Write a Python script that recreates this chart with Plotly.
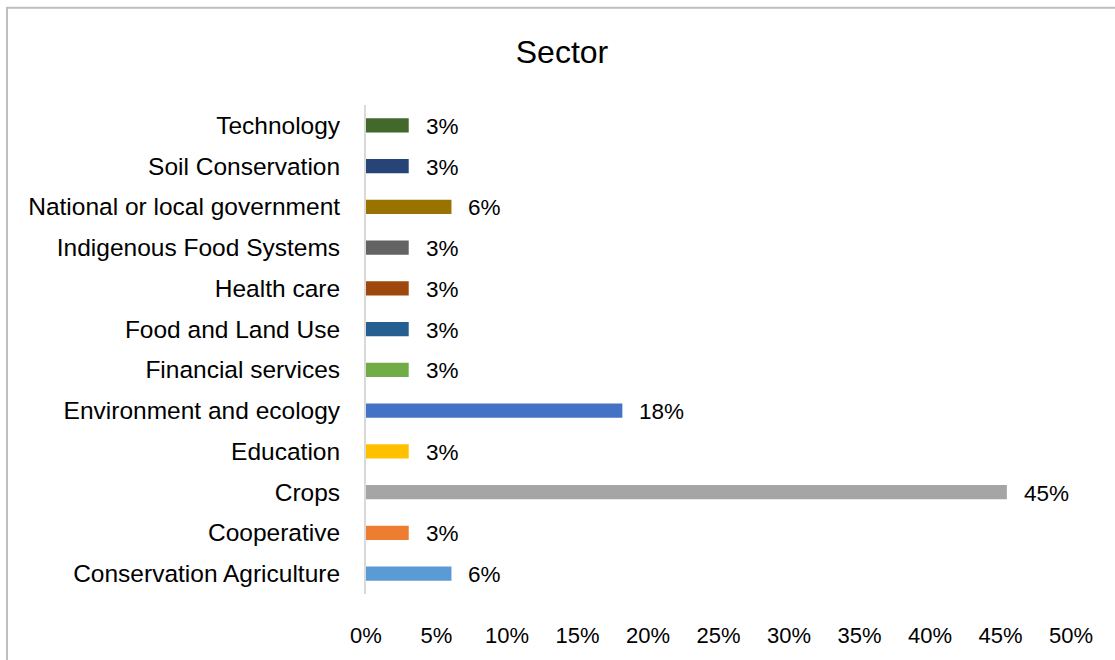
import plotly.graph_objects as go

# Data (bottom -> top, as drawn)
categories = [
    "Conservation Agriculture", "Cooperative", "Crops", "Education",
    "Environment and ecology", "Financial services", "Food and Land Use",
    "Health care", "Indigenous Food Systems", "National or local government",
    "Soil Conservation", "Technology",
]
shares = [0.0606, 0.0303, 0.4545, 0.0303, 0.1818, 0.0303, 0.0303,
          0.0303, 0.0303, 0.0606, 0.0303, 0.0303]
bar_colors = ["#5B9BD5", "#ED7D31", "#A5A5A5", "#FFC000", "#4472C4", "#70AD47",
              "#255E91", "#9E480E", "#636363", "#997300", "#264478", "#43682B"]
x_ticks = [0, 0.05, 0.10, 0.15, 0.20, 0.25, 0.30, 0.35, 0.40, 0.45, 0.50]
x_tick_labels = ["0%", "5%", "10%", "15%", "20%", "25%", "30%", "35%", "40%", "45%", "50%"]

W, H = 1115, 660
L, R, T, B = 366, 44, 105, 62
FONT = "Liberation Sans"

fig = go.Figure()
fig.add_trace(go.Bar(
    y=categories, x=shares, orientation="h",
    marker=dict(color=bar_colors, line=dict(width=0)),
    width=0.35, hoverinfo="skip",
))

for c, v in zip(categories, shares):
    fig.add_annotation(x=v, y=c, text=f"{round(v*100):.0f}%", showarrow=False,
                       xanchor="left", yanchor="middle", xshift=15, yshift=-1,
                       font=dict(family=FONT, size=22.5, color="#000000"))

pw = W - L - R
ph = H - T - B
# chart border (gray frame extending past right/bottom)
fig.add_shape(type="rect", xref="paper", yref="paper",
              x0=(7 - L) / pw, x1=(W + 20 - L) / pw,
              y0=-(H + 20 - T - ph) / ph, y1=(H - 7 - B) / ph,
              line=dict(color="#BFBFBF", width=2), fillcolor="rgba(0,0,0,0)", layer="below")

fig.update_layout(
    width=W, height=H,
    margin=dict(l=L, r=R, t=T, b=B),
    paper_bgcolor="white", plot_bgcolor="white",
    showlegend=False,
    title=dict(text="Sector", x=562 / W, xanchor="center", y=1 - 52 / H, yanchor="middle",
               font=dict(family=FONT, size=32, color="#000000")),
    font=dict(family=FONT, size=23, color="#000000"),
)
fig.update_xaxes(range=[0, 0.5], tickvals=x_ticks, ticktext=x_tick_labels,
                 showgrid=False, zeroline=False, showline=False,
                 ticks="", ticklabelstandoff=26,
                 tickfont=dict(family=FONT, size=22, color="#000000"))
fig.update_yaxes(showgrid=False, zeroline=False, showline=True,
                 linecolor="#D9D9D9", linewidth=2, ticks="",
                 ticklabelstandoff=19,
                 tickfont=dict(family=FONT, size=24.5, color="#000000"))

fig.write_html("out.html")
